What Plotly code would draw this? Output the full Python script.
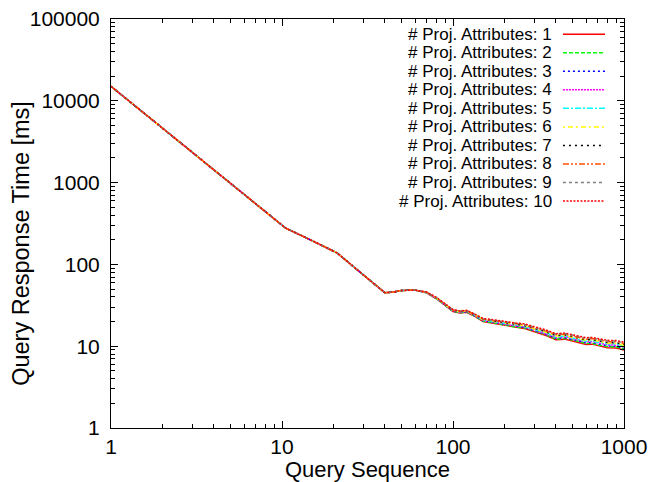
import plotly.graph_objects as go

# ---- data ----
x_head = [1, 2, 3, 5, 7, 10.5, 15, 21, 30, 40, 45, 50, 60]
y_head = [15000, 4600, 2320, 975, 548, 278, 195, 138, 74, 45, 46, 48, 48.5]

x_tail = [70, 80, 90, 100, 110, 120, 135, 150, 175, 200, 230, 260, 300, 350,
          400, 450, 500, 550, 600, 650, 700, 800, 900, 1000]

tail_1 = [45, 38, 31, 26.5, 25.5, 26, 23, 20, 19, 18, 17, 16.5, 15, 13.5, 12, 12.2, 11.6, 11, 10.5, 10.6, 10.2, 9.6, 9.5, 9.0]
tail_2 = [45.1, 38.2, 31.2, 26.7, 25.7, 26.2, 23.2, 20.2, 19.2, 18.2, 17.2, 16.8, 15.2, 13.8, 12.2, 12.5, 11.9, 11.3, 10.8, 10.9, 10.4, 9.9, 9.8, 9.3]
tail_3 = [45.2, 38.4, 31.4, 26.9, 25.9, 26.4, 23.4, 20.5, 19.5, 18.5, 17.5, 17.0, 15.5, 14.0, 12.5, 12.7, 12.1, 11.5, 11.0, 11.1, 10.7, 10.1, 10.0, 9.5]
tail_4 = [45.3, 38.6, 31.6, 27.1, 26.1, 26.6, 23.6, 20.7, 19.7, 18.7, 17.8, 17.3, 15.7, 14.3, 12.8, 13.0, 12.3, 11.8, 11.3, 11.4, 11.0, 10.4, 10.3, 9.8]
tail_5 = [45.4, 38.7, 31.8, 27.3, 26.3, 26.8, 23.8, 20.9, 19.9, 19.0, 18.0, 17.6, 16.0, 14.6, 13.0, 13.3, 12.6, 12.0, 11.5, 11.7, 11.2, 10.7, 10.6, 10.1]
tail_6 = [45.5, 38.8, 31.9, 27.4, 26.4, 26.9, 24.0, 21.1, 20.1, 19.2, 18.3, 17.8, 16.2, 14.8, 13.3, 13.5, 12.8, 12.2, 11.8, 11.9, 11.5, 10.9, 10.8, 10.3]
tail_7 = [45.6, 39.0, 32.0, 27.5, 26.5, 27.0, 24.1, 21.3, 20.3, 19.4, 18.5, 18.0, 16.5, 15.0, 13.5, 13.8, 13.1, 12.5, 12.0, 12.1, 11.7, 11.1, 11.0, 10.5]
tail_8 = [45.7, 39.1, 32.2, 27.7, 26.7, 27.2, 24.2, 21.4, 20.5, 19.6, 18.7, 18.3, 16.7, 15.3, 13.8, 14.0, 13.3, 12.7, 12.2, 12.4, 12.0, 11.4, 11.3, 10.8]
tail_9 = [45.8, 39.3, 32.4, 27.8, 26.8, 27.3, 24.3, 21.6, 20.7, 19.8, 19.0, 18.5, 17.0, 15.5, 14.0, 14.3, 13.6, 13.0, 12.5, 12.6, 12.2, 11.6, 11.5, 11.0]
tail_10 = [46, 39.5, 32.5, 28, 27, 27.5, 24.5, 21.8, 21, 20, 19.2, 18.8, 17.2, 15.8, 14.2, 14.5, 13.8, 13.2, 12.7, 12.8, 12.4, 11.8, 11.7, 11.2]

series_names = ["# Proj. Attributes: %d" % i for i in range(1, 11)]
tails = [tail_1, tail_2, tail_3, tail_4, tail_5, tail_6, tail_7, tail_8, tail_9, tail_10]

x_ticks = [1, 10, 100, 1000]
x_ticktext = ["1", "10", "100", "1000"]
y_ticks = [1, 10, 100, 1000, 10000, 100000]
y_ticktext = ["1", "10", "100", "1000", "10000", "100000"]

colors = ["#ff0000", "#00ff00", "#0000ff", "#ff00ff", "#00ffff",
          "#ffff00", "#000000", "#ff5000", "#808080", "#ff0000"]
dashes = ["solid", "4px,2px", "2px,3px", "2px,1px", "6px,2px,2px,2px",
          "2px,3px,5px,3px", "2px,4px", "6px,2px,2px,2px,2px,2px", "3px,3px", "2px,1.5px"]

FONT = "Liberation Sans, Arial, Helvetica"

fig = go.Figure()
x_all = x_head + x_tail
for name, tail, c, d in zip(series_names, tails, colors, dashes):
    fig.add_trace(go.Scatter(x=x_all, y=y_head + tail, mode="lines", name=name,
                             line=dict(color=c, dash=d, width=1.5), showlegend=False))

# gnuplot-like legend: right-aligned text with sample to the right
top_y = 0.963
step = 0.04536
for i, (name, c, d) in enumerate(zip(series_names, colors, dashes)):
    yy = top_y - i * step
    fig.add_annotation(x=0.862, y=yy, xref="paper", yref="paper", text=name,
                       showarrow=False, xanchor="right", yanchor="middle", borderpad=0,
                       font=dict(family=FONT, size=17, color="black"))
    fig.add_shape(type="line", xref="paper", yref="paper", x0=0.881, x1=0.963, y0=yy, y1=yy,
                  line=dict(color=c, dash=d, width=1.5))

# y-axis title (gnuplot places it slightly below the plot centre)
fig.add_annotation(x=-0.176, y=0.452, xref="paper", yref="paper", text="Query Response Time [ms]",
                   textangle=-90, showarrow=False, xanchor="center", yanchor="middle",
                   font=dict(family=FONT, size=23.5, color="black"))

axis_common = dict(type="log", showgrid=False, zeroline=False, showline=True, linecolor="black",
                   linewidth=1, mirror="allticks", ticks="inside", ticklen=7, tickcolor="black",
                   automargin=False,
                   tickfont=dict(family=FONT, size=21, color="black"),
                   minor=dict(ticks="inside", ticklen=4, dtick="D1", tickcolor="black", showgrid=False))

fig.update_xaxes(**axis_common, range=[0, 3], tickvals=x_ticks, ticktext=x_ticktext,
                 title=dict(text="Query Sequence", standoff=0,
                            font=dict(family=FONT, size=22, color="black")))
fig.update_yaxes(**axis_common, range=[0, 5], tickvals=y_ticks, ticktext=y_ticktext,
                 ticklabelstandoff=6)

fig.update_layout(width=653, height=482, margin=dict(l=111, r=29, t=19, b=54),
                  plot_bgcolor="white", paper_bgcolor="white", showlegend=False)

fig.write_html("out.html")
